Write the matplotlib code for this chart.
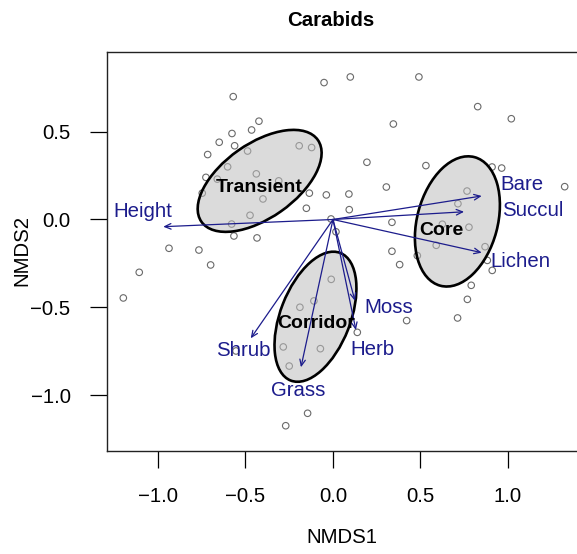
import numpy as np
from matplotlib import pyplot as plt
from matplotlib.patches import Ellipse

plt.rcParams["font.family"] = ["Liberation Sans", "DejaVu Sans"]

# site scores
site_x = [-0.051, -0.570, -0.423, -0.465, -0.577, -0.650, -0.562, -0.488, -0.716, -0.193,
          -0.122, -0.602, -0.438, -0.726, -0.661, -0.310, -0.747, -0.400, -0.135, -0.038,
          -0.152, -0.474, -0.579, -0.566, -0.434, -0.011, -0.937, -0.766, -0.699, -1.107,
          -1.198, -0.010, -0.109, -0.189, -0.284, -0.072, -0.250, -0.554, -0.145, -0.270,
          0.099, 0.491, 0.827, 1.019, 0.345, 0.194, 0.531, 0.909, 0.964, 1.324,
          0.305, 0.091, 0.093, 0.766, 0.714, 0.337, 0.017, 0.625, 0.777, 0.337,
          0.381, 0.482, 0.590, 0.869, 0.882, 0.910, 0.790, 0.768, 0.712, 0.421, 0.139]
site_y = [0.780, 0.700, 0.560, 0.510, 0.490, 0.440, 0.420, 0.390, 0.370, 0.420,
          0.410, 0.300, 0.260, 0.240, 0.230, 0.220, 0.150, 0.117, 0.150, 0.140,
          0.064, 0.024, -0.026, -0.094, -0.105, 0.003, -0.164, -0.174, -0.259, -0.301,
          -0.447, -0.341, -0.464, -0.500, -0.726, -0.736, -0.835, -0.749, -1.104, -1.175,
          0.812, 0.812, 0.643, 0.574, 0.544, 0.326, 0.307, 0.299, 0.293, 0.187,
          0.185, 0.145, 0.056, 0.162, 0.090, -0.016, -0.070, -0.027, -0.044, -0.181,
          -0.257, -0.206, -0.147, -0.155, -0.233, -0.290, -0.375, -0.455, -0.561, -0.576, -0.643]

# environmental vectors
env_names = ["Height", "Bare", "Succul", "Lichen", "Moss", "Herb", "Grass", "Shrub"]
env_x = [-0.970, 0.850, 0.749, 0.850, 0.126, 0.131, -0.183, -0.470]
env_y = [-0.041, 0.134, 0.044, -0.189, -0.464, -0.630, -0.842, -0.677]
env_lab_x = [-1.086, 1.080, 1.143, 1.074, 0.320, 0.223, -0.200, -0.514]
env_lab_y = [0.043, 0.202, 0.054, -0.242, -0.504, -0.738, -0.977, -0.744]

# group ellipses: centre, semi axes, angle
groups = ["Transient", "Core", "Corridor"]
ell_cx = [-0.419, 0.711, -0.100]
ell_cy = [0.220, -0.011, -0.554]
ell_a = [0.406, 0.379, 0.390]
ell_b = [0.212, 0.230, 0.200]
ell_ang = [35, 75, 68.7]
grp_lab_x = [-0.42, 0.617, -0.097]
grp_lab_y = [0.18, -0.06, -0.59]

fig = plt.figure(figsize=(5.77, 5.54), dpi=100)
ax = fig.add_axes([0.1849, 0.1859, 0.8168, 0.7208])

ax.scatter(site_x, site_y, s=22, facecolors="none", edgecolors="#6a6a6a", linewidths=0.8, zorder=2)

for i in range(len(groups)):
    e = Ellipse((ell_cx[i], ell_cy[i]), 2 * ell_a[i], 2 * ell_b[i], angle=ell_ang[i],
                facecolor=(0.745, 0.745, 0.745, 0.55), edgecolor="black", lw=1.9, zorder=3)
    ax.add_patch(e)

for i in range(len(env_names)):
    ax.annotate("", xy=(env_x[i], env_y[i]), xytext=(0, 0),
                arrowprops=dict(arrowstyle="->,head_length=0.45,head_width=0.2",
                                color="#1c1c8c", lw=0.9, shrinkA=0, shrinkB=0), zorder=4)
    ax.text(env_lab_x[i], env_lab_y[i], env_names[i], color="#1c1c8c", fontsize=14.7,
            ha="center", va="center", zorder=5)

for i in range(len(groups)):
    ax.text(grp_lab_x[i], grp_lab_y[i], groups[i], fontsize=14, fontweight="bold",
            ha="center", va="center", zorder=6)

ax.set_xlim(-1.293, 1.40)
ax.set_ylim(-1.319, 0.956)
ax.set_xticks([-1.0, -0.5, 0.0, 0.5, 1.0])
ax.set_yticks([-1.0, -0.5, 0.0, 0.5])
ax.set_xticklabels(["\u22121.0", "\u22120.5", "0.0", "0.5", "1.0"])
ax.set_yticklabels(["\u22121.0", "\u22120.5", "0.0", "0.5"])
ax.tick_params(length=12, width=0.9, labelsize=14.7, pad=14)
for sp in ax.spines.values():
    sp.set_linewidth(1.0)
    sp.set_color("#222222")
ax.set_xlabel("NMDS1", fontsize=14.7, labelpad=16)
fig.text(22 / 577, 1 - 251 / 554, "NMDS2", fontsize=14.7, rotation=90, ha="center", va="center")
fig.text(0.574, 0.963, "Carabids", fontsize=14.7, fontweight="bold", ha="center", va="center")

plt.savefig("out.png", dpi=100)
